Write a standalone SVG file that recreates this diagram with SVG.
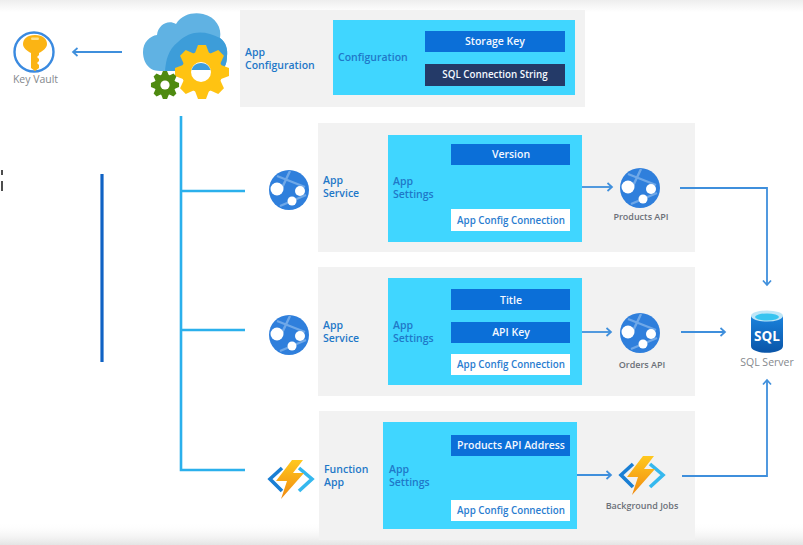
<svg xmlns="http://www.w3.org/2000/svg" xmlns:xlink="http://www.w3.org/1999/xlink" width="803" height="545" viewBox="0 0 803 545">
<style>
text{font-family:"Open Sans","Noto Sans","Liberation Sans",sans-serif;font-weight:600}
.panel{fill:#f2f2f2}
.cyan{fill:#40d6ff}
.dark{fill:#0b6fd8}
.navy{fill:#243a68}
.white{fill:#fff}
.lbl{font-size:10.5px;fill:#1f78c8}
.chip{font-size:10.5px;fill:#f4f8ff;text-anchor:middle}
.chipb{font-size:9.800px;fill:#2a7dd0;text-anchor:middle}
.cap{font-size:9px;fill:#6b7078;text-anchor:middle}
.cap2{font-size:10.500px;fill:#84888d;text-anchor:middle;font-weight:400}
.conn{fill:none;stroke:#3f8fdc;stroke-width:1.8}
.trunk{fill:none;stroke:#2bb0ec;stroke-width:2.6}
</style>
<defs>
<linearGradient id="topfade" x1="0" y1="0" x2="0" y2="1"><stop offset="0" stop-color="#eeeeee"/><stop offset="1" stop-color="#ffffff"/></linearGradient>
<linearGradient id="botfade" x1="0" y1="0" x2="0" y2="1"><stop offset="0" stop-color="#ffffff" stop-opacity="0"/><stop offset="1" stop-color="#e4e4e4"/></linearGradient>
<linearGradient id="sqlg" x1="0" y1="0" x2="0" y2="1"><stop offset="0" stop-color="#1a82dc"/><stop offset="1" stop-color="#0a55a8"/></linearGradient>
<linearGradient id="bolt" x1="0" y1="0" x2="0" y2="1"><stop offset="0" stop-color="#ffc81e"/><stop offset="1" stop-color="#f08a10"/></linearGradient>
<marker id="ah" markerWidth="9" markerHeight="10" refX="7" refY="5" orient="auto" markerUnits="userSpaceOnUse"><path d="M2.500 1L7 5L2.500 9" fill="none" stroke="#3f8fdc" stroke-width="1.700"/></marker>
<g id="globe">
<circle r="20" fill="#2f7fdc"/>
<path d="M-12-14L16-3M1-19L-8 0M-9 16L17 5" stroke="#6fa8e8" stroke-width="2.400" fill="none"/>
<circle cx="-12" cy="-1" r="6.500" fill="#fff"/>
<circle cx="11" cy="1" r="5" fill="#fff"/>
<circle cx="3" cy="11" r="4.500" fill="#fff"/>
</g>
<g id="func">
<path d="M-9-11L-21 0L-9 12" fill="none" stroke="#1a7fd4" stroke-width="3.600"/>
<path d="M8-11L21 0L8 12" fill="none" stroke="#35b8ee" stroke-width="3.600"/>
<path d="M1-19L-15 2L-4 2L-10 20L13-6L2-6L12-19Z" fill="url(#bolt)"/>
</g>
<path id="tooth" d="M-7-19L-4-27H4L7-19Z"/>
<g id="gear">
<circle r="20.500"/>
<use href="#tooth"/>
<use href="#tooth" transform="rotate(45)"/>
<use href="#tooth" transform="rotate(90)"/>
<use href="#tooth" transform="rotate(135)"/>
<use href="#tooth" transform="rotate(180)"/>
<use href="#tooth" transform="rotate(225)"/>
<use href="#tooth" transform="rotate(270)"/>
<use href="#tooth" transform="rotate(315)"/>
</g>
</defs>

<rect x="0" y="0" width="803" height="12" fill="url(#topfade)"/>
<rect x="0" y="522" width="803" height="23" fill="url(#botfade)"/>
<path d="M2 170V175M2 181V191" fill="none" stroke="#222" stroke-width="1.600"/>

<g id="key-vault">
<circle cx="34" cy="52" r="19.500" fill="#fff" stroke="#3a8ae0" stroke-width="2.400"/>
<path d="M35 35C27 35 23 39 23 44C23 48 27 51 31 53V68L35 71L39 68V65L37 63L39 61V59L37 57L39 55V53C43 51 47 48 47 44C47 39 43 35 35 35Z" fill="#fbb414"/>
<rect x="31" y="37.500" width="8" height="2.400" rx="1.200" fill="#fde08a"/>
<text class="cap2" x="35.500" y="83" style="font-size:10.500px">Key Vault</text>
</g>

<g id="app-config-icon">
<path d="M160 71C147 71 143 60 143 52C143 42 150 36 157 35C158 25 168 19 176 24C182 14 194 12 203 14C216 17 222 28 220 38C226 42 228 50 227 56C227 64 224 71 218 71Z" fill="#60b2e3"/>
<path d="M165 71C166 60 168 50 178 42C190 30 205 30 220 38C226 42 228 50 227 56C227 64 224 71 218 71Z" fill="#3d9dd9"/>
<use href="#gear" x="202" y="72" fill="#ffc312"/>
<circle cx="201" cy="72" r="10" fill="#fff"/>
<path d="M191.500 70A10 10 0 0 1 210.500 70Z" fill="#3d9dd9"/>
<use href="#gear" transform="translate(165 85) scale(.52)" fill="#4e8a10"/>
<circle cx="165" cy="85" r="4.600" fill="#fff"/>
</g>

<g id="app-configuration">
<rect class="panel" x="240" y="10" width="345" height="97"/>
<rect class="cyan" x="333" y="20" width="242" height="75"/>
<text class="lbl" x="245" y="56">App</text>
<text class="lbl" x="245" y="69">Configuration</text>
<text class="lbl" x="338" y="61">Configuration</text>
<rect class="dark" x="425" y="31" width="140" height="21"/>
<text class="chip" x="495" y="45">Storage Key</text>
<rect class="navy" x="425" y="64" width="140" height="22"/>
<text class="chip" x="495" y="78" style="font-size:9.800px">SQL Connection String</text>
</g>

<g id="products-service">
<rect class="panel" x="318" y="123" width="377" height="129"/>
<rect class="cyan" x="388" y="135" width="194" height="107"/>
<use href="#globe" x="289" y="190"/>
<text class="lbl" x="323" y="184">App</text>
<text class="lbl" x="323" y="197">Service</text>
<text class="lbl" x="393" y="185">App</text>
<text class="lbl" x="393" y="198">Settings</text>
<rect class="dark" x="451" y="144" width="119" height="21"/>
<text class="chip" x="511" y="158">Version</text>
<rect class="white" x="451" y="209" width="119" height="22"/>
<text class="chipb" x="511" y="224">App Config Connection</text>
<use href="#globe" x="640" y="188"/>
<text class="cap" x="641" y="220">Products API</text>
</g>

<g id="orders-service">
<rect class="panel" x="318" y="267" width="377" height="129"/>
<rect class="cyan" x="388" y="278" width="194" height="107"/>
<use href="#globe" x="289" y="335"/>
<text class="lbl" x="323" y="329">App</text>
<text class="lbl" x="323" y="342">Service</text>
<text class="lbl" x="393" y="329">App</text>
<text class="lbl" x="393" y="342">Settings</text>
<rect class="dark" x="451" y="289" width="119" height="21"/>
<text class="chip" x="511" y="304">Title</text>
<rect class="dark" x="451" y="322" width="119" height="21"/>
<text class="chip" x="511" y="336">API Key</text>
<rect class="white" x="451" y="354" width="119" height="21"/>
<text class="chipb" x="511" y="368">App Config Connection</text>
<use href="#globe" x="640" y="333"/>
<text class="cap" x="642" y="368">Orders API</text>
</g>

<g id="function-app">
<rect class="panel" x="319" y="411" width="376" height="129"/>
<rect class="cyan" x="383" y="422" width="194" height="107"/>
<use href="#func" x="291" y="479"/>
<text class="lbl" x="324" y="473">Function</text>
<text class="lbl" x="324" y="486">App</text>
<text class="lbl" x="389" y="473">App</text>
<text class="lbl" x="389" y="486">Settings</text>
<rect class="dark" x="451" y="435" width="119" height="21"/>
<text class="chip" x="511" y="449">Products API Address</text>
<rect class="white" x="451" y="500" width="119" height="21"/>
<text class="chipb" x="511" y="514">App Config Connection</text>
<use href="#func" x="642" y="475"/>
<text class="cap" x="642" y="509">Background Jobs</text>
</g>

<g id="sql-server">
<path d="M751 316V346C751 355 783 355 783 346V316Z" fill="url(#sqlg)"/>
<ellipse cx="767" cy="316" rx="16" ry="5.500" fill="#bfe6f7"/>
<ellipse cx="767" cy="317" rx="12" ry="3.500" fill="#37c4f0"/>
<text x="767" y="341" font-size="13.500" fill="#fff" text-anchor="middle" style="font-weight:700">SQL</text>
<text class="cap2" x="767" y="366">SQL Server</text>
</g>

<g id="connectors">
<path class="trunk" d="M181 116V470H245M181 191H245M181 330H245"/>
<path d="M102 174V362" fill="none" stroke="#0f62c4" stroke-width="3.200"/>
<path class="conn" marker-end="url(#ah)" d="M122 52H73"/>
<path class="conn" marker-end="url(#ah)" d="M582 187H612"/>
<path class="conn" marker-end="url(#ah)" d="M680 188H767V285"/>
<path class="conn" marker-end="url(#ah)" d="M582 332H611"/>
<path class="conn" marker-end="url(#ah)" d="M681 332H725"/>
<path class="conn" marker-end="url(#ah)" d="M577 475H611"/>
<path class="conn" marker-end="url(#ah)" d="M682 476H767V380"/>
</g>
</svg>
